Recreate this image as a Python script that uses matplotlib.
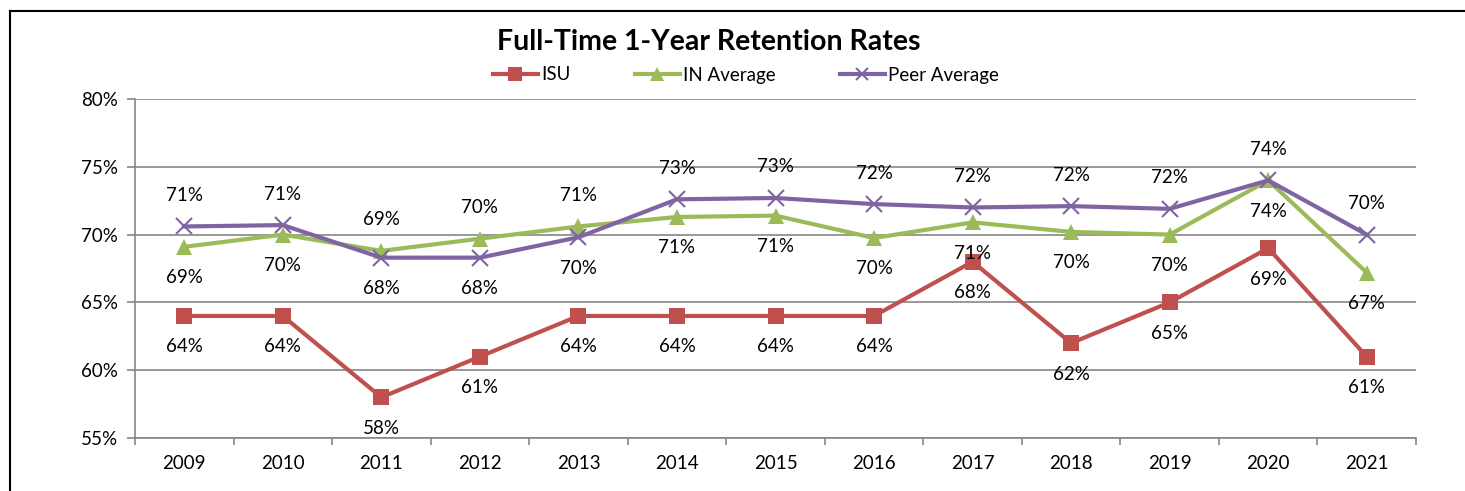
import matplotlib
matplotlib.use("Agg")
import matplotlib.pyplot as plt
from matplotlib.lines import Line2D
from matplotlib.ticker import FixedLocator, NullFormatter

years = ["2009", "2010", "2011", "2012", "2013", "2014", "2015", "2016", "2017", "2018", "2019", "2020", "2021"]
isu = [64.0, 64.0, 58.0, 61.0, 64.0, 64.0, 64.0, 64.0, 68.0, 62.0, 65.0, 69.0, 61.0]
in_avg = [69.1, 70.0, 68.8, 69.7, 70.6, 71.3, 71.4, 69.75, 70.9, 70.2, 70.0, 74.0, 67.2]
peer = [70.6, 70.7, 68.3, 68.3, 69.8, 72.6, 72.7, 72.25, 72.0, 72.1, 71.9, 74.0, 70.0]
# label placement: 1 = above, -1 = below
isu_pos = [-1] * 13
in_pos = [-1, -1, 1, 1, 1, -1, -1, -1, -1, -1, -1, -1, -1]
peer_pos = [1, 1, -1, -1, -1, 1, 1, 1, 1, 1, 1, 1, 1]

FONT = "Lato"
plt.rcParams["font.family"] = [FONT, "DejaVu Sans"]
FS = 13.5

fig = plt.figure(figsize=(14.65, 4.91), dpi=100)
ax = fig.add_axes([135 / 1465, 1 - 438 / 491, (1416 - 135) / 1465, (438 - 99) / 491])

x = list(range(len(years)))
series = [
    ("ISU", isu, "#C0504D", "s", 12, isu_pos),
    ("IN Average", in_avg, "#9BBB59", "^", 12, in_pos),
    ("Peer Average", peer, "#8064A2", "x", 11, peer_pos),
]
handles = []
for name, vals, col, mk, ms, pos in series:
    mew = 1.5 if mk == "x" else 0
    ax.plot(x, vals, color=col, lw=3, marker=mk, ms=ms, mew=mew, mec=col, mfc=col, zorder=3)
    handles.append(Line2D([], [], color=col, lw=3, marker=mk, ms=ms * 0.85, mew=mew, mec=col, mfc=col))
    for xi, v, p in zip(x, vals, pos):
        ax.annotate(f"{round(v):.0f}%", (xi, v), xytext=(0, 31 * p), textcoords="offset pixels",
                    ha="center", va="center", fontsize=FS, color="black", zorder=4)

ax.set_xlim(-0.5, len(years) - 0.5)
ax.set_ylim(55, 80)
ax.set_yticks([55, 60, 65, 70, 75, 80])
ax.set_yticklabels([f"{t}%" for t in [55, 60, 65, 70, 75, 80]], fontsize=FS)
ax.set_xticks(x)
ax.set_xticklabels(years, fontsize=FS)
ax.tick_params(axis="x", which="major", length=0, pad=12)
ax.xaxis.set_minor_locator(FixedLocator([i - 0.5 for i in range(len(years) + 1)]))
ax.xaxis.set_minor_formatter(NullFormatter())
ax.tick_params(axis="x", which="minor", length=5, color="#868686", width=1.2)
ax.tick_params(axis="y", length=6, color="#868686", width=1.2, pad=6)
ax.grid(axis="y", color="#868686", lw=1.2, zorder=0)
for s in ["top", "right"]:
    ax.spines[s].set_visible(False)
for s in ["left", "bottom"]:
    ax.spines[s].set_color("#868686")
    ax.spines[s].set_linewidth(1.2)

fig.text(709 / 1465, 1 - 42 / 491, "Full-Time 1-Year Retention Rates", ha="center", va="center",
         fontsize=20.5, fontweight="bold")
fig.legend(handles, [s[0] for s in series], loc="center", bbox_to_anchor=(746 / 1465, 1 - 75 / 491),
           ncol=3, frameon=False, fontsize=FS, handlelength=2.4, handletextpad=0.2, columnspacing=3.4)

# outer border (left and top)
fig.add_artist(Line2D([10 / 1465, 10 / 1465], [0, 1 - 11 / 491], transform=fig.transFigure, color="black", lw=1.5))
fig.add_artist(Line2D([10 / 1465, 1], [1 - 11 / 491, 1 - 11 / 491], transform=fig.transFigure, color="black", lw=1.5))

fig.savefig("out.png", dpi=100)
